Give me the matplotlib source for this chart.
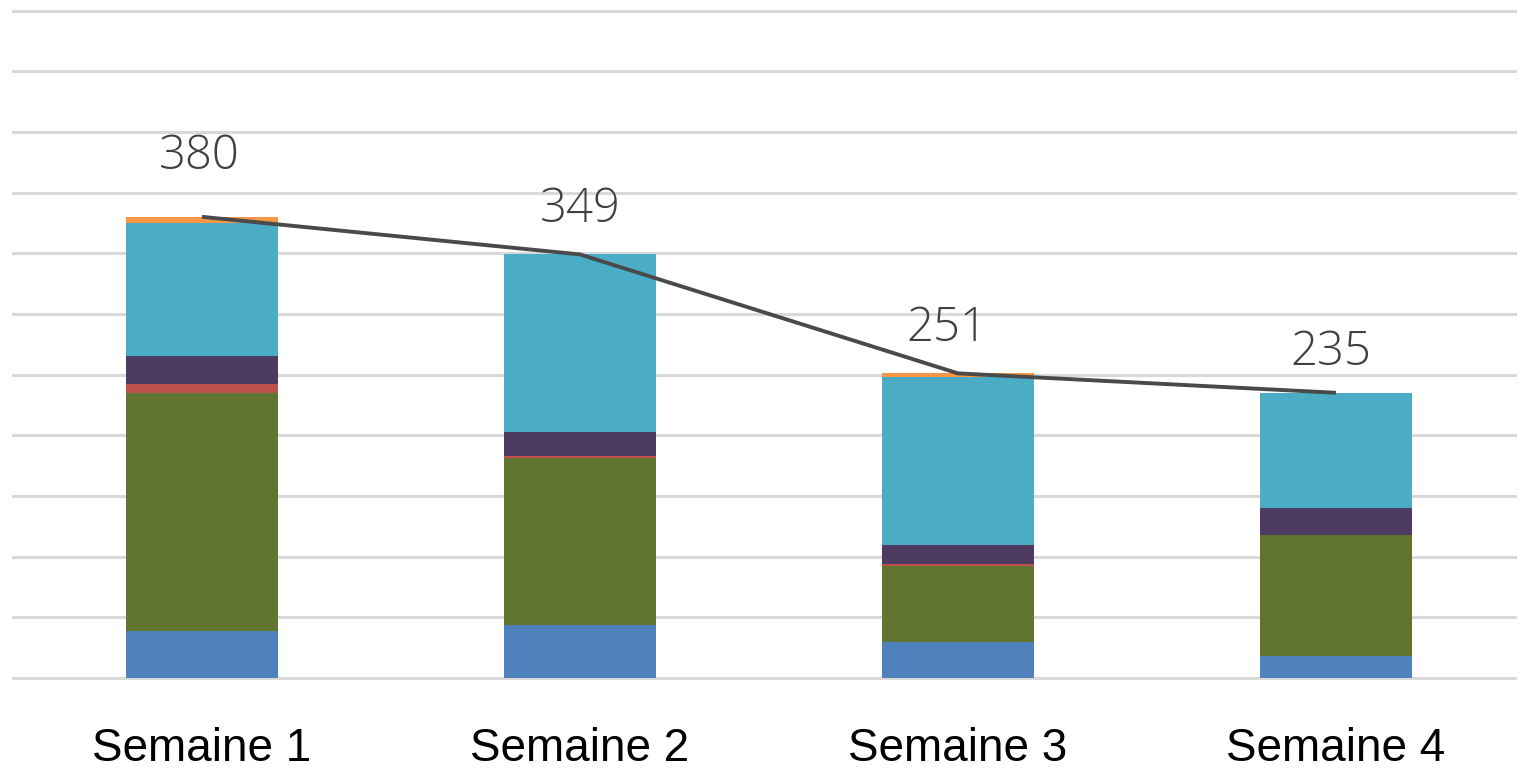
import numpy as np
import matplotlib
matplotlib.use('Agg')
from matplotlib import pyplot as plt

semaines = ['Semaine 1', 'Semaine 2', 'Semaine 3', 'Semaine 4']

# stacked segments, bottom to top
serie1 = [39, 44, 30, 18]
serie2 = [196, 137, 62, 100]
serie3 = [7, 2, 2, 0]
serie4 = [23, 20, 16, 22]
serie5 = [110, 146, 138, 95]
serie6 = [5, 0, 3, 0]
totaux = [380, 349, 251, 235]

series = [serie1, serie2, serie3, serie4, serie5, serie6]
couleurs = ['#4F81BD', '#617430', '#C0504D', '#4D3B62', '#4BACC6', '#F79646']

fig = plt.figure(figsize=(15.17, 7.69), dpi=100)
ax = fig.add_axes([13 / 1517, 91 / 769, 1512 / 1517, 667.5 / 769])

x = np.arange(len(semaines))
bas = np.zeros(len(semaines))
for vals, c in zip(series, couleurs):
    ax.bar(x, vals, width=0.4, bottom=bas, color=c, zorder=2)
    bas += np.array(vals)

ax.plot(x, totaux, color='#4a4a4a', lw=2.8, zorder=3, solid_capstyle='butt')

# label offsets in points (dx, dy)
decalages = [(-2, 43), (0, 32), (-8, 32), (-4, 29)]
for xi, t, (dx, dy) in zip(x, totaux, decalages):
    ax.annotate(str(t), (xi, t), xytext=(dx, dy), textcoords='offset points',
                ha='center', va='center', fontsize=34, color='#404040',
                family='Open Sans', fontweight='light')

ax.set_xlim(-0.5, 3.5)
ax.set_ylim(0, 550)
ax.set_yticks(np.arange(0, 551, 50))
ax.yaxis.grid(True, color='#d9d9d9', lw=2.2, zorder=0)
for gl in ax.get_ygridlines():
    gl.set_clip_on(False)
ax.set_axisbelow(True)
ax.tick_params(axis='y', left=False, labelleft=False)
ax.tick_params(axis='x', length=0, pad=35)
ax.set_xticks(x)
ax.set_xticklabels(semaines, fontsize=33, family='Liberation Sans', color='black')
for s in ax.spines.values():
    s.set_visible(False)

plt.savefig('out.png', dpi=100)
